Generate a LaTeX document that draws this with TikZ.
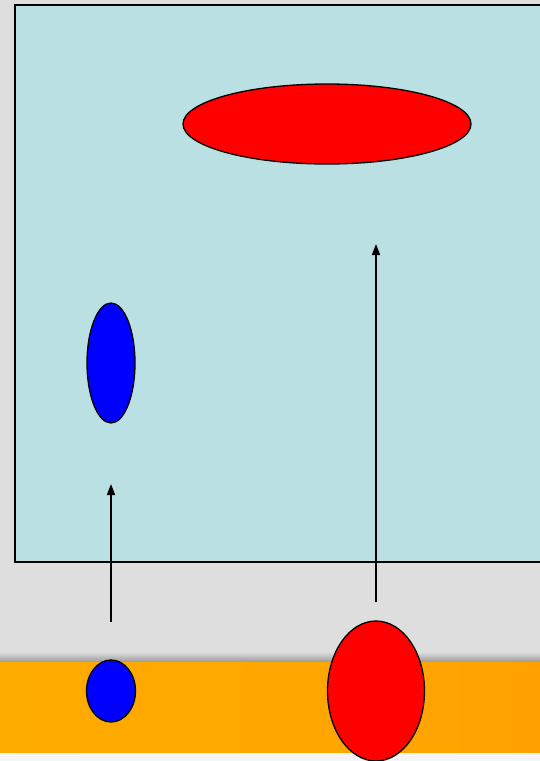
\documentclass[tikz,border=0pt]{standalone}
\usepackage{xcolor}
\usepackage{tikz}
\usetikzlibrary{arrows.meta,positioning,shapes.geometric}

\definecolor{bggray}{HTML}{DEDEDE}
\definecolor{paleteal}{HTML}{BAE0E3}
\definecolor{bandorange}{HTML}{FFAC00}
\definecolor{bandorangeR}{HTML}{FFA200}
\definecolor{bandshadow}{HTML}{9A9A9A}

\begin{document}
\begin{tikzpicture}[x=1pt,y=-1pt,
  blob/.style={ellipse,draw=black,line width=1.3pt,inner sep=0pt},
  redblob/.style={blob,fill=red},
  blueblob/.style={blob,fill=blue},
  rise/.style={line width=1.6pt,-{Triangle[length=11pt,width=8pt]}}
]
%--- background and frame ---
\fill[bggray] (0,0) rectangle (540,761);
\useasboundingbox (0,0) rectangle (540,761);
\shade[top color=bggray,bottom color=bandshadow] (0,652) rectangle (540,662);
\shade[left color=bandorange,right color=bandorangeR] (0,662) rectangle (540,753);
\fill[white!92!gray] (0,753) rectangle (540,761);
\draw[line width=1.6pt,fill=paleteal] (15,562) -- (15,5) -- (545,5) -- (545,562) -- cycle;
%--- shapes ---
\node[redblob,minimum width=288pt,minimum height=80pt] (topred) at (327,124) {};
\node[blueblob,minimum width=48pt,minimum height=120pt] (midblue) at (111,363) {};
\node[blueblob,minimum width=49pt,minimum height=62pt] (lowblue) at (111,691) {};
\node[redblob,minimum width=97pt,minimum height=140pt] (lowred) at (376,691) {};
% arrow ends
\coordinate (bluefoot) at (111,622);
\coordinate (bluehead) at (111,484);
\coordinate (redfoot) at (376,602);
\coordinate (redhead) at (376,244);
\draw[rise] (bluefoot) -- (bluehead);
\draw[rise] (redfoot) -- (redhead);
\end{tikzpicture}
\end{document}
